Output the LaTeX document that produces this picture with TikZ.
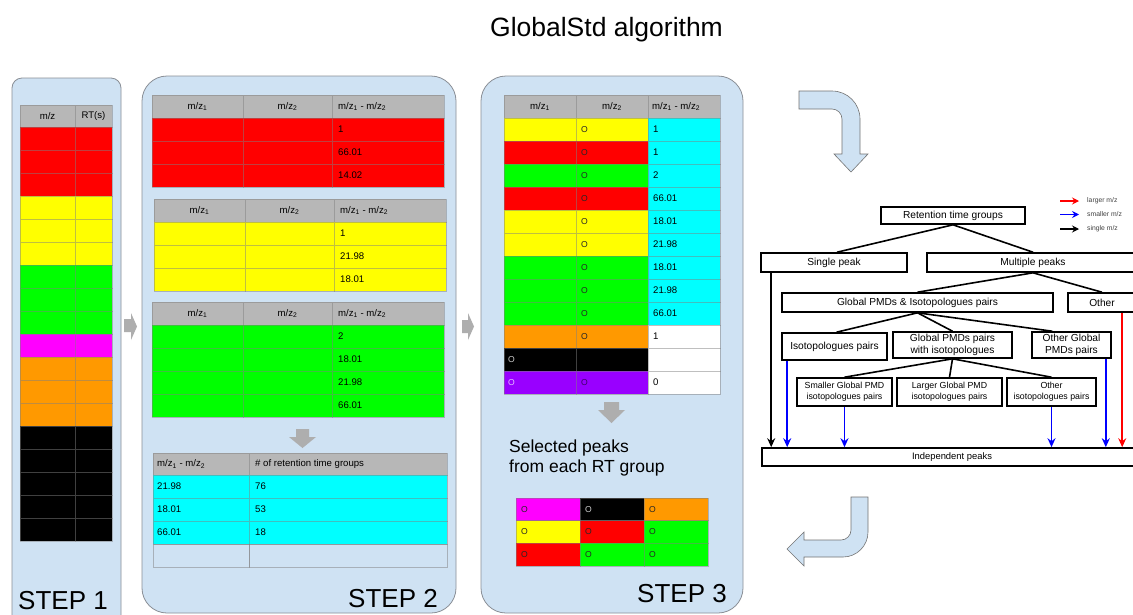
\documentclass[tikz,border=0pt]{standalone}
\usepackage{fontspec}
\setmainfont{Liberation Sans}
\usetikzlibrary{arrows.meta,calc}
\definecolor{cred}{HTML}{FF0000}
\definecolor{cyel}{HTML}{FFFF00}
\definecolor{cgrn}{HTML}{00FF00}
\definecolor{cmag}{HTML}{FF00FF}
\definecolor{corg}{HTML}{FF9900}
\definecolor{ccyn}{HTML}{00FFFF}
\definecolor{cpur}{HTML}{9900FF}
\definecolor{cblk}{HTML}{000000}
\definecolor{cwht}{HTML}{FFFFFF}
\definecolor{chdr}{HTML}{B7B7B7}
\definecolor{cpf}{HTML}{CFE2F3}
\definecolor{cpb}{HTML}{8A8F96}
\definecolor{cga}{HTML}{AEAEAE}
\definecolor{cblue}{HTML}{0000FF}
\tikzset{
 cell/.style={draw=gray, draw opacity=0.5, line width=0.6pt},
 hdr/.style={cell, fill=chdr},
 panel/.style={draw=cpb, fill=cpf, line width=0.8pt},
 tt/.style={font=\fontsize{9.6}{11}\selectfont, inner sep=0pt},
 oo/.style={font=\fontsize{8.6}{9}\selectfont, inner sep=0pt, anchor=west},
 fbox/.style={draw=black, line width=1.6pt, fill=white, inner sep=1pt, align=center, font=\fontsize{10.2}{12}\selectfont},
 sbox/.style={fbox, font=\fontsize{8.8}{11}\selectfont},
 fl/.style={line width=1.6pt},
 arr/.style={line width=1.6pt, -{Stealth[length=9pt,width=8pt,inset=3pt]}},
 lgarr/.style={line width=1.5pt, -{Stealth[length=7pt,width=7pt,inset=2.5pt]}},
 garrow/.style={fill=cga, draw=none},
 big/.style={font=\fontsize{26}{30}\selectfont, inner sep=0pt},
 bendarrow/.style={draw=gray!90!black, fill=cpf, line width=0.6pt},
 legtext/.style={font=\fontsize{6.8}{8}\selectfont, text=black!75, inner sep=0pt, anchor=west},
}
\newcommand\pmdtab[5]{%
  \foreach \dx/\w in {0/91,91/89,180/112} \path[hdr] ({#2+\dx},#3) rectangle ++(\w,23);
  \node[tt] (#1h1) at ({#2+45.5},{#3+11.5}) {m/z\textsubscript{1}};
  \node[tt] (#1h2) at ({#2+135.5},{#3+11.5}) {m/z\textsubscript{2}};
  \node[tt,anchor=west] (#1h3) at ({#2+186},{#3+11.5}) {m/z\textsubscript{1} - m/z\textsubscript{2}};
  \foreach \v [count=\i from 0] in {#5} {
    \foreach \dx/\w in {0/91,91/89,180/112} \path[cell,fill=#4] ({#2+\dx},{#3+23+23*\i}) rectangle ++(\w,23);
    \node[tt,anchor=west] (#1v\i) at ({#2+186},{#3+34.5+23*\i}) {\v};
  }
}
\begin{document}
\begin{tikzpicture}[x=1pt,y=-1pt]
\useasboundingbox (0,0) rectangle (1133,614);
\clip (0,0) rectangle (1133,614);
\fill[white] (0,0) rectangle (1133,614);

% title
\node[font=\fontsize{26.5}{30}\selectfont, anchor=base, inner sep=0pt] (title) at (606.5,36) {GlobalStd algorithm};

% panels
\draw[panel, rounded corners=10pt] (12,78) rectangle (121,660);
\draw[panel, rounded corners=25pt] (142,76) rectangle (456,613);
\draw[panel, rounded corners=25pt] (481,76) rectangle (743,613);

% small gray arrows between panels
\fill[garrow] (124,319) -- (131,319) -- (131,313) -- (137,326.5) -- (131,340) -- (131,332) -- (124,332) -- cycle;
\fill[garrow] (462,320) -- (468,320) -- (468,313) -- (474,326.5) -- (468,340) -- (468,333) -- (462,333) -- cycle;

% STEP 1 table
\path[hdr] (20,105) rectangle (75,127);
\path[hdr] (75,105) rectangle (112,127);
\node[tt] (s1h1) at (47.5,116) {m/z};
\node[tt] (s1h2) at (93.5,116) {RT(s)};
\foreach \c [count=\i from 0] in {cred,cred,cred,cyel,cyel,cyel,cgrn,cgrn,cgrn,cmag,corg,corg,corg,cblk,cblk,cblk,cblk,cblk} {
  \path[cell,fill=\c] (20,{127+23*\i}) rectangle ++(55,23);
  \path[cell,fill=\c] (75,{127+23*\i}) rectangle ++(37,23);
}
\node[big,anchor=base west] (st1) at (18,609) {STEP 1};

% STEP 2 tables
\pmdtab{ta}{152}{95}{cred}{1,66.01,14.02}
\pmdtab{tb}{154}{199}{cyel}{1,21.98,18.01}
\pmdtab{tc}{152}{302}{cgrn}{2,18.01,21.98,66.01}
\fill[garrow] (296,429) -- (309,429) -- (309,437) -- (316,437) -- (302.5,448) -- (289,437) -- (296,437) -- cycle;
\path[hdr] (153,453) rectangle (249,475);
\path[hdr] (249,453) rectangle (447,475);
\node[tt,anchor=west] (cth1) at (157,464) {m/z\textsubscript{1} - m/z\textsubscript{2}};
\node[tt,anchor=west] (cth2) at (255,464) {\# of retention time groups};
\foreach \a/\b [count=\i from 0] in {21.98/76,18.01/53,66.01/18} {
  \path[cell,fill=ccyn] (153,{475+23*\i}) rectangle ++(96,23);
  \path[cell,fill=ccyn] (249,{475+23*\i}) rectangle ++(198,23);
  \node[tt,anchor=west] (cta\i) at (157,{486.5+23*\i}) {\a};
  \node[tt,anchor=west] (ctb\i) at (255,{486.5+23*\i}) {\b};
}
\path[cell] (153,544) rectangle (249,567);
\path[cell] (249,544) rectangle (447,567);
\node[big,anchor=base east] (st2) at (438,607) {STEP 2};

% STEP 3 table
\path[hdr] (504,95) rectangle (576,118);
\path[hdr] (576,95) rectangle (648,118);
\path[hdr] (648,95) rectangle (720,118);
\node[tt] (s3h1) at (540,106.5) {m/z\textsubscript{1}};
\node[tt] (s3h2) at (612,106.5) {m/z\textsubscript{2}};
\node[tt,anchor=west] (s3h3) at (652,106.5) {m/z\textsubscript{1} - m/z\textsubscript{2}};
\foreach \a/\c/\v [count=\i from 0] in {cyel/ccyn/1,cred/ccyn/1,cgrn/ccyn/2,cred/ccyn/66.01,cyel/ccyn/18.01,cyel/ccyn/21.98,cgrn/ccyn/18.01,cgrn/ccyn/21.98,cgrn/ccyn/66.01,corg/cwht/1} {
  \path[cell,fill=\a] (504,{118+23*\i}) rectangle ++(72,23);
  \path[cell,fill=\a] (576,{118+23*\i}) rectangle ++(72,23);
  \path[cell,fill=\c] (648,{118+23*\i}) rectangle ++(72,23);
  \node[oo,text=black!85] (s3o\i) at (581,{129.5+23*\i}) {O};
  \node[tt,anchor=west] (s3v\i) at (653,{129.5+23*\i}) {\v};
}
\path[cell,fill=cblk] (504,348) rectangle ++(72,23);
\path[cell,fill=cblk] (576,348) rectangle ++(72,23);
\path[cell,fill=cwht] (648,348) rectangle ++(72,23);
\node[oo,text=black!20] (s3ob) at (508,359.5) {O};
\path[cell,fill=cpur] (504,371) rectangle ++(72,23);
\path[cell,fill=cpur] (576,371) rectangle ++(72,23);
\path[cell,fill=cwht] (648,371) rectangle ++(72,23);
\node[oo,text=cpur!25] (s3op1) at (508,382.5) {O};
\node[oo,text=cpur!40!black] (s3op2) at (581,382.5) {O};
\node[tt,anchor=west] (s3vp) at (653,382.5) {0};
\fill[garrow] (604,402) -- (619,402) -- (619,410) -- (625,410) -- (611.5,423) -- (598,410) -- (604,410) -- cycle;
\node[font=\fontsize{17.5}{20}\selectfont, anchor=base west, inner sep=0pt] (sel1) at (509,452) {Selected peaks};
\node[font=\fontsize{17.5}{20}\selectfont, anchor=base west, inner sep=0pt] (sel2) at (509,472) {from each RT group};
\foreach \a/\b/\c/\ta/\tb/\tc [count=\i from 0] in {cmag/cblk/corg/black!85/black!20/black!85, cyel/cred/cgrn/black!85/black!85/black!85, cred/cgrn/cgrn/black!85/black!85/black!85} {
  \path[cell,fill=\a] (516,{498+22.7*\i}) rectangle ++(64,22.7);
  \path[cell,fill=\b] (580,{498+22.7*\i}) rectangle ++(64,22.7);
  \path[cell,fill=\c] (644,{498+22.7*\i}) rectangle ++(64,22.7);
  \node[oo,text=\ta] (bg\i a) at (521,{509.3+22.7*\i}) {O};
  \node[oo,text=\tb] (bg\i b) at (585,{509.3+22.7*\i}) {O};
  \node[oo,text=\tc] (bg\i c) at (649,{509.3+22.7*\i}) {O};
}
\node[big,anchor=base east] (st3) at (727,602) {STEP 3};

% bent arrows
\draw[bendarrow] (799,91) -- (832,91) .. controls (847.5,91) and (860,103.5) .. (860,119) -- (860,154) -- (868,154) -- (851,172) -- (834,154) -- (842,154) -- (842,119) .. controls (842,113.5) and (837.5,109) .. (832,109) -- (799,109) -- cycle;
\draw[bendarrow] (851,497) -- (868,497) -- (868,532) .. controls (868,545.8) and (856.8,557) .. (843,557) -- (804,557) -- (804,566) -- (787,549) -- (804,532) -- (804,540) -- (841,540) .. controls (846.5,540) and (851,535.5) .. (851,530) -- cycle;

% legend
\node[legtext] (lg1) at (1087,201) {larger m/z};
\node[legtext] (lg2) at (1087,214.5) {smaller m/z};
\node[legtext] (lg3) at (1087,229) {single m/z};
\draw[lgarr,cred] ($(lg1.west)+(-27,0)$) -- ($(lg1.west)+(-8,0)$);
\draw[lgarr,cblue] ($(lg2.west)+(-27,0)$) -- ($(lg2.west)+(-8,0)$);
\draw[lgarr,black] ($(lg3.west)+(-27,0)$) -- ($(lg3.west)+(-8,0)$);

% flowchart
\node[fbox, minimum width=144pt, minimum height=17pt] (rtg) at (953,215.5) {Retention time groups};
\node[fbox, minimum width=146pt, minimum height=19pt] (sp) at (834,262.5) {Single peak};
\node[fbox, minimum width=212pt, minimum height=19pt] (mp) at (1033,262.5) {Multiple peaks};
\node[fbox, minimum width=271pt, minimum height=19pt] (gpi) at (917.5,302.5) {Global PMDs \& Isotopologues pairs};
\node[fbox, minimum width=68pt, minimum height=19pt] (oth) at (1102,302.5) {Other};
\node[fbox, minimum width=105pt, minimum height=27pt] (iso) at (834.5,346.5) {Isotopologues pairs};
\node[fbox, minimum width=119pt, minimum height=26pt] (gpw) at (952.5,345) {Global PMDs pairs\\with isotopologues};
\node[fbox, minimum width=79pt, minimum height=26pt] (ogp) at (1071.5,345) {Other Global\\PMDs pairs};
\node[sbox, minimum width=95pt, minimum height=28pt] (sgp) at (844.5,392) {Smaller Global PMD\\isotopologues pairs};
\node[sbox, minimum width=105pt, minimum height=28pt] (lgp) at (949.5,392) {Larger Global PMD\\isotopologues pairs};
\node[sbox, minimum width=89pt, minimum height=28pt] (oip) at (1051.5,392) {Other\\isotopologues pairs};
\node[fbox, minimum width=380pt, minimum height=18pt, font=\fontsize{9.4}{11}\selectfont] (ind) at (952,457) {Independent peaks};

\draw[fl] (rtg.south) -- ($(sp.north)+(3,0)$);
\draw[fl] (rtg.south) -- (mp.north);
\draw[fl] (mp.south) -- (gpi.north);
\draw[fl] (mp.south) -- (oth.north);
\draw[fl] (gpi.south) -- ($(iso.north)+(2,0)$);
\draw[fl] (gpi.south) -- (gpw.north);
\draw[fl] (gpi.south) -- ($(ogp.north west)+(21,0)$);
\draw[fl] (gpw.south) -- (sgp.north);
\draw[fl] (gpw.south) -- (lgp.north);
\draw[fl] (gpw.south) -- (oip.north);

\coordinate (a1) at ($(sp.south west)+(11,0)$);
\coordinate (a2) at ($(iso.south west)+(6,0)$);
\coordinate (a3) at (sgp.south);
\coordinate (a4) at (oip.south);
\coordinate (a5) at ($(ogp.south east)+(-6,0)$);
\coordinate (a6) at ($(oth.south west)+(55,0)$);
\draw[arr,black] (a1) -- (a1 |- ind.north);
\draw[arr,cblue] (a2) -- (a2 |- ind.north);
\draw[arr,cblue] (a3) -- (a3 |- ind.north);
\draw[arr,cblue] (a4) -- (a4 |- ind.north);
\draw[arr,cblue] (a5) -- (a5 |- ind.north);
\draw[arr,cred] (a6) -- (a6 |- ind.north);
\end{tikzpicture}
\end{document}
